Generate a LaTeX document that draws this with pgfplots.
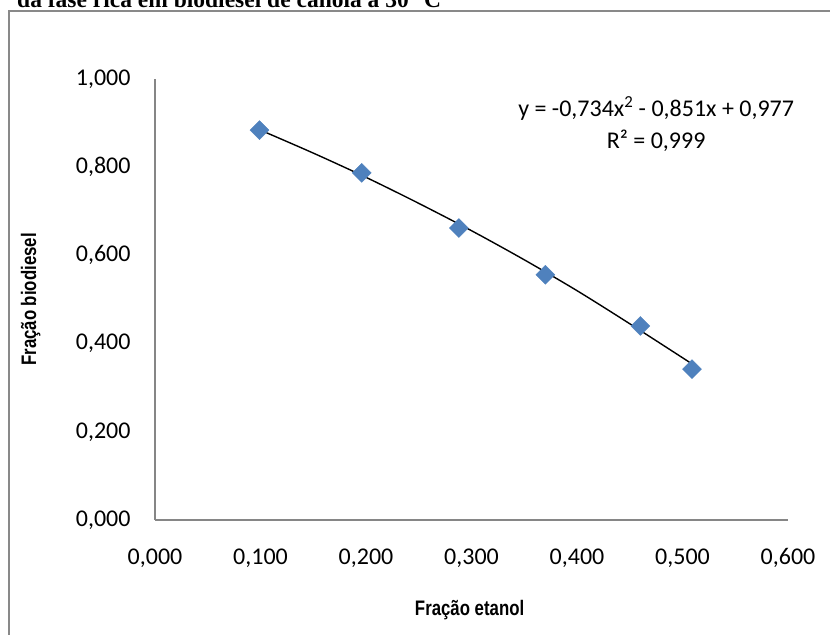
\documentclass[border=0pt]{standalone}
\usepackage{fontspec}
\setmainfont{Carlito}
\newfontfamily\narrowfont{Liberation Sans}[FakeStretch=0.80]
\newfontfamily\titlefont{Liberation Serif}
\usepackage{pgfplots}
\pgfplotsset{compat=1.18}
\definecolor{FrameGray}{HTML}{898989}
\definecolor{AxisGray}{HTML}{868686}
\definecolor{MarkBlue}{HTML}{4F81BD}

\begin{document}
\begin{tikzpicture}[x=1bp,y=1bp]
\clip (0,0) rectangle (830,635);
\path[use as bounding box] (0,0) rectangle (830,635);
% cut-off caption above the chart frame
\node[anchor=base west,inner sep=0pt,font=\titlefont\bfseries\fontsize{23.5bp}{26bp}\selectfont]
  at (17,627) {da fase rica em biodiesel de canola a 30 °C};
% chart frame (runs off the right and bottom edges)
\draw[FrameGray,line width=2bp] (9,-5) -- (9,624) -- (840,624);
\begin{axis}[
  at={(155bp,115bp)}, anchor=origin,
  scale only axis,
  width=633bp, height=441bp,
  xmin=0, xmax=0.6, ymin=0, ymax=1,
  xtick={0,0.1,0.2,0.3,0.4,0.5,0.6},
  ytick={0,0.2,0.4,0.6,0.8,1},
  axis lines=left,
  axis line style={draw=AxisGray,line width=1.3bp,-},
  major tick length=0pt,
  tick label style={font=\fontsize{24bp}{28bp}\selectfont,text=black},
  /pgf/number format/.cd, fixed, fixed zerofill, precision=3, use comma, assume math mode=true,
  /pgfplots/.cd,
  xticklabel style={yshift=-25bp},
  yticklabel style={xshift=-21bp},
  xlabel={\narrowfont\bfseries Fração etanol},
  ylabel={\narrowfont\bfseries Fração biodiesel},
  label style={font=\fontsize{21bp}{24bp}\selectfont},
  xlabel style={at={(axis description cs:0.497,0)},yshift=-77bp},
  ylabel style={at={(axis description cs:0,0.5)},yshift=111bp},
  clip=false
]
% polynomial trendline
\addplot[black,line width=1.4bp,smooth] coordinates {
  (0.099,0.885) (0.150,0.832) (0.200,0.777) (0.250,0.718)
  (0.300,0.656) (0.350,0.590) (0.400,0.520) (0.450,0.445)
  (0.509,0.354)};
\addplot[only marks,mark=square*,mark size=6.7bp,
  mark options={rotate=45,draw=MarkBlue,fill=MarkBlue}] coordinates {
  (0.099,0.884) (0.196,0.787) (0.288,0.662)
  (0.370,0.556) (0.460,0.440) (0.509,0.342)};
\node[align=center,font=\fontsize{24bp}{32bp}\selectfont,inner sep=0pt]
  at (axis cs:0.475,0.898) {y = -0,734x\textsuperscript{2} - 0,851x + 0,977\\R² = 0,999};
\end{axis}
\end{tikzpicture}
\end{document}
